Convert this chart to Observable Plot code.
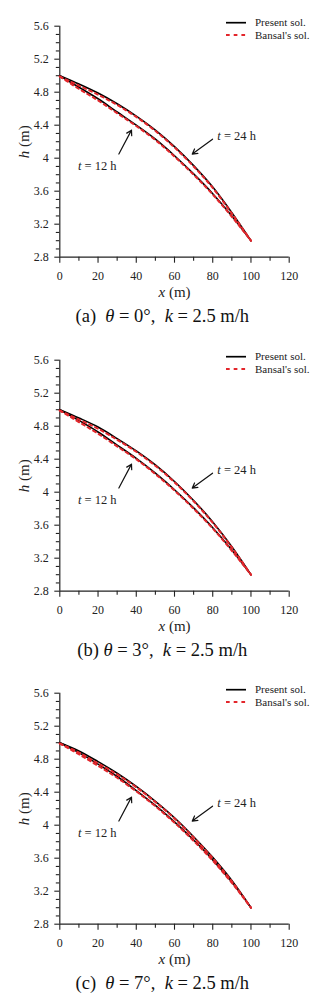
<!DOCTYPE html>
<html><head><meta charset="utf-8">
<script src="https://cdn.jsdelivr.net/npm/d3@7"></script>
<script src="https://cdn.jsdelivr.net/npm/@observablehq/plot@0.6"></script>
<style>
body{margin:0;background:#fff;width:329px;}
.panel{position:relative;width:329px;height:333.7px;}
.panel > svg{position:absolute;left:0;top:0;}
.panel svg text{font-family:"Liberation Serif",serif;}
.caption{position:absolute;top:306px;left:162.3px;transform:translateX(-50%);white-space:pre;font-family:"Liberation Serif",serif;font-size:18.5px;line-height:20px;color:#111;}
</style></head><body><div id="root"></div>
<script>
// ---- data ----
const xValues = [0,10,20,30,40,50,60,70,80,90,100];
const panelLetters = ["(a)  ","(b) ","(c)  "];
const thetaLabels = ["0°","3°","7°"];
const kLabel = "2.5 m/h";
const timeLabels = ["t = 24 h","t = 12 h"];
const seriesLabels = ["Present sol.","Bansal's sol."];

const presentA24 = [5.00,4.90,4.79,4.66,4.51,4.34,4.14,3.91,3.65,3.34,3.00];
const presentA12 = [5.00,4.86,4.72,4.56,4.40,4.23,4.03,3.81,3.57,3.30,3.00];
const bansalA24  = [4.99,4.88,4.77,4.645,4.50,4.33,4.13,3.90,3.64,3.33,3.00];
const bansalA12  = [4.99,4.84,4.70,4.545,4.39,4.22,4.02,3.80,3.56,3.29,3.00];

const presentB24 = [5.00,4.90,4.79,4.65,4.50,4.33,4.13,3.90,3.64,3.34,3.00];
const presentB12 = [5.00,4.87,4.73,4.57,4.41,4.23,4.03,3.81,3.57,3.30,3.00];
const bansalB24  = [4.99,4.88,4.77,4.635,4.49,4.32,4.12,3.89,3.63,3.33,3.00];
const bansalB12  = [4.99,4.85,4.71,4.555,4.40,4.22,4.02,3.80,3.56,3.29,3.00];

const presentC24 = [5.00,4.90,4.77,4.63,4.47,4.29,4.09,3.86,3.61,3.33,3.00];
const presentC12 = [5.00,4.88,4.74,4.59,4.42,4.24,4.04,3.82,3.58,3.31,3.00];
const bansalC24  = [4.99,4.88,4.75,4.615,4.46,4.28,4.08,3.85,3.60,3.32,3.00];
const bansalC12  = [4.99,4.86,4.72,4.575,4.41,4.23,4.03,3.81,3.57,3.30,3.00];

const xTicks = [0,20,40,60,80,100,120];
const xTickLabels = ["0","20","40","60","80","100","120"];
const xMinorTicks = [10,30,50,70,90,110];
const yTicks = [2.8,3.2,3.6,4.0,4.4,4.8,5.2,5.6];
const yTickLabels = ["2.8","3.2","3.6","4","4.4","4.8","5.2","5.6"];
const yMinorTicks = [2.9,3.0,3.1,3.3,3.4,3.5,3.7,3.8,3.9,4.1,4.2,4.3,4.5,4.6,4.7,4.9,5.0,5.1,5.3,5.4,5.5];

// annotation anchors (data units)
const labelX = [92.5, 19.6];
const labelH = [4.27, 3.91];
const arrowX1 = [79.9, 30.9];
const arrowH1 = [4.23, 4.05];
const arrowX2 = [69.3, 37.5];
const arrowH2 = [4.05, 4.34];

const RED = "#e3262b";
const FONT = '"Liberation Serif", serif';
const W = 329, MT = 25.7, ML = 59.3, MR = 40.3, PH = 231, MB = 50;

function rowsOf(arr, time) { return xValues.map((x, i) => ({x, h: arr[i], time})); }

function makePanel(idx, p24, p12, b24, b12) {
  const present = [...rowsOf(p24, "24"), ...rowsOf(p12, "12")];
  const bansal = [...rowsOf(b24, "24"), ...rowsOf(b12, "12")];
  const labels = timeLabels.map((t, i) => ({t, x: labelX[i], h: labelH[i]}));
  const arrows = arrowX1.map((_, i) => ({x1: arrowX1[i], y1: arrowH1[i], x2: arrowX2[i], y2: arrowH2[i]}));
  const svg = Plot.plot({
    width: W, height: MT + PH + MB,
    marginLeft: ML, marginRight: MR, marginTop: MT, marginBottom: MB,
    x: {domain: [0, 120]},
    y: {domain: [2.8, 5.6]},
    style: {fontFamily: FONT, fontSize: "12px", color: "#222", background: "transparent", overflow: "visible"},
    marks: [
      Plot.axisX(xMinorTicks, {tickSize: 4, tickFormat: () => "", label: null, strokeWidth: 1.1}),
      Plot.axisX(xTicks, {tickSize: 6, tickPadding: 8, tickFormat: d => xTickLabels[xTicks.indexOf(d)], label: null, strokeWidth: 1.1}),
      Plot.axisY(yMinorTicks, {tickSize: 3.5, tickFormat: () => "", label: null, strokeWidth: 1.1}),
      Plot.axisY(yTicks, {tickSize: 5, tickPadding: 6, tickFormat: d => yTickLabels[yTicks.indexOf(d)], label: null, strokeWidth: 1.1}),
      Plot.ruleX([0], {stroke: "#222", strokeWidth: 1.2}),
      Plot.ruleY([2.8], {stroke: "#222", strokeWidth: 1.2}),
      Plot.line(present, {x: "x", y: "h", z: "time", stroke: "#000", strokeWidth: 1.6, curve: "monotone-x"}),
      Plot.line(bansal, {x: "x", y: "h", z: "time", stroke: RED, strokeWidth: 2, strokeDasharray: "3,3.5", curve: "monotone-x"}),
      Plot.arrow(arrows, {x1: "x1", y1: "y1", x2: "x2", y2: "y2", stroke: "#111", strokeWidth: 1.2, headLength: 7}),
      Plot.text(labels, {x: "x", y: "h", text: "t", fontSize: 12.5, fill: "#222"}),
      Plot.text(["x (m)"], {text: d => d, frameAnchor: "bottom", lineAnchor: "middle", dy: 35, fontSize: 15, fill: "#222"}),
      Plot.text(["h (m)"], {text: d => d, frameAnchor: "left", textAnchor: "middle", lineAnchor: "middle", dx: -36, rotate: -90, fontSize: 15, fill: "#222"})
    ]
  });
  // italicize variable symbols
  d3.select(svg).selectAll("text").each(function() {
    const t = this.textContent;
    if (t === "x (m)" || t === "h (m)" || timeLabels.includes(t)) {
      this.textContent = "";
      d3.select(this).append("tspan").attr("font-style", "italic").text(t[0]);
      d3.select(this).append("tspan").text(t.slice(1));
    }
  });

  const panel = d3.select("#root").append("div").attr("class", "panel");
  panel.node().appendChild(svg);

  // legend overlay
  const leg = panel.append("svg").attr("width", W).attr("height", 50)
    .attr("font-family", FONT).attr("font-size", 11);
  const legY = [MT - 3, MT + 9.3];
  seriesLabels.forEach((s, i) => {
    leg.append("line").attr("x1", 226).attr("x2", 246).attr("y1", legY[i]).attr("y2", legY[i])
      .attr("stroke", i === 0 ? "#000" : RED).attr("stroke-width", i === 0 ? 1.7 : 2)
      .attr("stroke-dasharray", i === 0 ? null : "3.7,4");
    leg.append("text").attr("x", 255).attr("y", legY[i]).attr("dy", "0.33em").attr("fill", "#222").text(s);
  });

  const cap = panel.append("div").attr("class", "caption");
  cap.append("span").text(panelLetters[idx]);
  cap.append("i").text("θ");
  cap.append("span").text(" = " + thetaLabels[idx] + ",  ");
  cap.append("i").text("k");
  cap.append("span").text(" = " + kLabel);
}

makePanel(0, presentA24, presentA12, bansalA24, bansalA12);
makePanel(1, presentB24, presentB12, bansalB24, bansalB12);
makePanel(2, presentC24, presentC12, bansalC24, bansalC12);
</script></body></html>
